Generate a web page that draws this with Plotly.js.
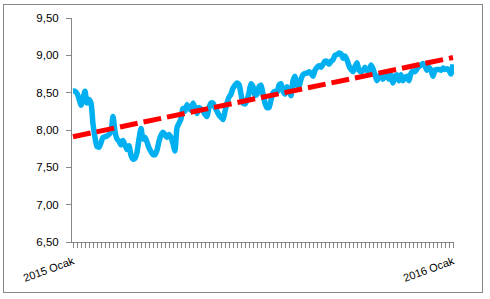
<!DOCTYPE html>
<html>
<head>
<meta charset="utf-8">
<script src="https://cdn.plot.ly/plotly-3.0.1.min.js"></script>
<style>
  html, body { margin: 0; padding: 0; background: #fff; }
  #wrap { position: relative; width: 490px; height: 299px; }
  #chart { position: absolute; left: 0; top: 0; width: 490px; height: 299px; }
  #frame { position: absolute; left: 3px; top: 4px; width: 478px; height: 287px; border: 1px solid #868686; pointer-events: none; }
</style>
</head>
<body>
<div id="wrap"><div id="chart"></div><div id="frame"></div></div>
<script>
// Series values (one value per observation, Jan 2015 .. Jan 2016)
const seriesValues = [
  8.52, 8.52, 8.49, 8.42, 8.33, 8.42, 8.52, 8.36, 8.41, 8.36,
  8.08, 7.90, 7.78, 7.77, 7.83, 7.90, 7.91, 7.92, 7.94, 7.98,
  8.18, 7.98, 7.88, 7.85, 7.80, 7.86, 7.80, 7.74, 7.79, 7.66,
  7.61, 7.62, 7.70, 7.88, 8.02, 7.88, 7.90, 7.84, 7.76, 7.71,
  7.67, 7.67, 7.73, 7.85, 7.93, 7.97, 7.94, 7.90, 7.94, 7.90,
  7.82, 7.72, 8.03, 8.09, 8.15, 8.29, 8.25, 8.34, 8.30, 8.26,
  8.36, 8.30, 8.22, 8.30, 8.28, 8.26, 8.21, 8.18, 8.30, 8.36,
  8.36, 8.30, 8.25, 8.20, 8.17, 8.14, 8.25, 8.36, 8.44, 8.48,
  8.56, 8.60, 8.63, 8.61, 8.48, 8.36, 8.35, 8.40, 8.50, 8.62,
  8.58, 8.46, 8.48, 8.58, 8.60, 8.48, 8.36, 8.30, 8.30, 8.40,
  8.50, 8.52, 8.50, 8.60, 8.62, 8.52, 8.48, 8.58, 8.52, 8.46,
  8.66, 8.72, 8.60, 8.58, 8.68, 8.74, 8.76, 8.76, 8.78, 8.76,
  8.72, 8.80, 8.84, 8.86, 8.84, 8.88, 8.92, 8.92, 8.88, 8.92,
  8.94, 9.00, 9.01, 9.03, 9.02, 8.96, 8.99, 8.94, 8.86, 8.81,
  8.78, 8.85, 8.90, 8.80, 8.78, 8.80, 8.84, 8.80, 8.78, 8.87,
  8.82, 8.74, 8.66, 8.72, 8.74, 8.68, 8.72, 8.74, 8.68, 8.74,
  8.63, 8.72, 8.74, 8.66, 8.74, 8.66, 8.70, 8.72, 8.66, 8.76,
  8.79, 8.78, 8.82, 8.85, 8.87, 8.89, 8.86, 8.80, 8.84, 8.80,
  8.72, 8.80, 8.81, 8.81, 8.80, 8.83, 8.81, 8.82, 8.80, 8.75,
  8.88
];
// Linear trend line: start and end values
const trendValues = [7.91, 8.97];
// Category tick labels: first and last observation
const tickLabels = ["2015 Ocak", "2016 Ocak"];
// Y axis ticks
const yTicks = [6.5, 7.0, 7.5, 8.0, 8.5, 9.0, 9.5];

const n = seriesValues.length;
const xs = seriesValues.map((_, i) => i);

const tickvals = [], ticktext = [];
for (let i = 0; i < n; i += 2) {
  tickvals.push(i);
  ticktext.push(i === 0 ? tickLabels[0] : (i === n - 1 ? tickLabels[1] : ""));
}
if (tickvals[tickvals.length - 1] !== n - 1) { tickvals.push(n - 1); ticktext.push(tickLabels[1]); }

const traces = [
  {
    x: xs, y: seriesValues, type: "scatter", mode: "lines",
    line: { color: "#00B0F0", width: 5.5, shape: "spline", smoothing: 0.6 },
    hoverinfo: "skip", showlegend: false
  },
  {
    x: [0, n - 1], y: trendValues, type: "scatter", mode: "lines",
    line: { color: "#FF0000", width: 5, dash: "18px,6px" },
    hoverinfo: "skip", showlegend: false
  }
];

const axisColor = "#868686";
const fnt = { family: "Liberation Sans, Arial, sans-serif", size: 11, color: "#000" };
const layout = {
  width: 490, height: 299,
  margin: { l: 72, r: 36, t: 18, b: 57 },
  paper_bgcolor: "#fff", plot_bgcolor: "#fff",
  separators: ", ",
  font: fnt,
  showlegend: false,
  xaxis: {
    type: "linear", range: [-0.5, n - 0.5],
    tickmode: "array", tickvals: tickvals, ticktext: ticktext,
    ticks: "outside", ticklen: 5, tickwidth: 1, tickcolor: axisColor,
    tickangle: -20, ticklabelstandoff: 3,
    showline: true, linecolor: axisColor, linewidth: 1,
    showgrid: false, zeroline: false,
    tickfont: fnt
  },
  yaxis: {
    range: [6.5, 9.5],
    tickmode: "array", tickvals: yTicks,
    tickformat: ".2f",
    ticks: "outside", ticklen: 5, tickwidth: 1, tickcolor: axisColor,
    ticklabelstandoff: 5,
    showline: true, linecolor: axisColor, linewidth: 1,
    showgrid: false, zeroline: false,
    tickfont: { family: "Liberation Sans, Arial, sans-serif", size: 11.5, color: "#000" }
  }
};

Plotly.newPlot("chart", traces, layout, { staticPlot: true, displayModeBar: false });
</script>
</body>
</html>
